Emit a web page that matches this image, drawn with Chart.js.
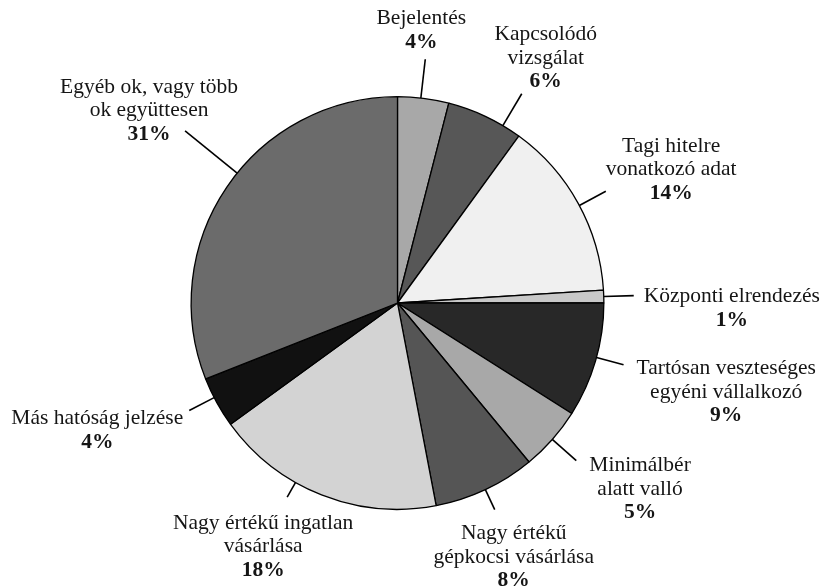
<!DOCTYPE html>
<html>
<head>
<meta charset="utf-8">
<script src="https://cdn.jsdelivr.net/npm/chart.js@4"></script>
<style>
  html, body { margin: 0; padding: 0; background: #fff; }
  canvas { display: block; }
</style>
</head>
<body>
<canvas id="c" width="822" height="586"></canvas>
<script>
// ---- data ----
const categories = [
  ['Bejelentés'],
  ['Kapcsolódó', 'vizsgálat'],
  ['Tagi hitelre', 'vonatkozó adat'],
  ['Központi elrendezés'],
  ['Tartósan veszteséges', 'egyéni vállalkozó'],
  ['Minimálbér', 'alatt valló'],
  ['Nagy értékű', 'gépkocsi vásárlása'],
  ['Nagy értékű ingatlan', 'vásárlása'],
  ['Más hatóság jelzése'],
  ['Egyéb ok, vagy több', 'ok együttesen']
];
const shares = [4, 6, 14, 1, 9, 5, 8, 18, 4, 31];

// ---- styles ----
const sliceColors = ['#a8a8a8', '#575757', '#f0f0f0', '#c8c8c8', '#282828',
                     '#a8a8a8', '#555555', '#d3d3d3', '#111111', '#6b6b6b'];
// leader/label layout: angle nudge (deg), leader length, horizontal anchor, dx, reference line, dy
const labelLayout = [
  { nudge: -0.7, len: 39, hx: 'center', dx: -4,  ref: 'last',  dy: -17 },
  { nudge: 5.5,  len: 37, hx: 'center', dx: 24,  ref: 'last',  dy: -12 },
  { nudge: 0.6,  len: 30, hx: 'left',   dx: 0,   ref: 'last',  dy: 2 },
  { nudge: 0,    len: 30, hx: 'left',   dx: 10,  ref: 'first', dy: 1 },
  { nudge: -0.9, len: 28, hx: 'left',   dx: 13,  ref: 'first', dy: 4 },
  { nudge: 0,    len: 32, hx: 'left',   dx: 13,  ref: 'first', dy: 5 },
  { nudge: 0,    len: 22, hx: 'center', dx: 19,  ref: 'first', dy: 24 },
  { nudge: 8,    len: 17, hx: 'center', dx: -24, ref: 'first', dy: 26 },
  { nudge: 1.5,  len: 28, hx: 'right',  dx: -6,  ref: 'first', dy: 8 },
  { nudge: 4.8,  len: 67, hx: 'center', dx: -36, ref: 'last',  dy: 3 }
];
const FONT_FAMILY = '"Liberation Serif", "Times New Roman", serif';
const FONT_SIZE = 21.5;
const LINE_H = 23.5;

const labelPlugin = {
  id: 'leaderLabels',
  afterDatasetsDraw(chart) {
    const ctx = chart.ctx;
    const meta = chart.getDatasetMeta(0);
    const data = chart.data.datasets[0].data;
    const total = data.reduce((a, b) => a + b, 0);
    ctx.save();
    meta.data.forEach((arc, i) => {
      const lay = labelLayout[i];
      const p = arc.getProps(['x', 'y', 'startAngle', 'endAngle', 'outerRadius'], true);
      const a = (p.startAngle + p.endAngle) / 2 + lay.nudge * Math.PI / 180;
      const r0 = p.outerRadius;
      const r1 = r0 + lay.len;
      const x0 = p.x + r0 * Math.cos(a), y0 = p.y + r0 * Math.sin(a);
      const x1 = p.x + r1 * Math.cos(a), y1 = p.y + r1 * Math.sin(a);
      ctx.beginPath();
      ctx.moveTo(x0, y0);
      ctx.lineTo(x1, y1);
      ctx.strokeStyle = '#000';
      ctx.lineWidth = 1.6;
      ctx.stroke();

      const lines = categories[i].map(t => ({ text: t, bold: false }));
      lines.push({ text: Math.round(data[i] / total * 100) + '%', bold: true });
      let maxW = 0;
      lines.forEach(l => {
        ctx.font = (l.bold ? 'bold ' : '') + FONT_SIZE + 'px ' + FONT_FAMILY;
        l.w = ctx.measureText(l.text).width;
        maxW = Math.max(maxW, l.w);
      });
      let cx;
      if (lay.hx === 'left') cx = x1 + lay.dx + maxW / 2;
      else if (lay.hx === 'right') cx = x1 + lay.dx - maxW / 2;
      else cx = x1 + lay.dx;
      let firstY;
      if (lay.ref === 'first') firstY = y1 + lay.dy;
      else firstY = y1 + lay.dy - (lines.length - 1) * LINE_H;
      ctx.fillStyle = '#151515';
      ctx.textAlign = 'center';
      ctx.textBaseline = 'middle';
      lines.forEach((l, k) => {
        ctx.font = (l.bold ? 'bold ' : '') + FONT_SIZE + 'px ' + FONT_FAMILY;
        ctx.fillText(l.text, cx, firstY + k * LINE_H);
      });
    });
    ctx.restore();
  }
};

new Chart(document.getElementById('c'), {
  type: 'pie',
  data: {
    labels: categories.map(c => c.join(' ')),
    datasets: [{
      data: shares,
      backgroundColor: sliceColors,
      borderColor: '#000',
      borderWidth: 1.3
    }]
  },
  options: {
    responsive: false,
    devicePixelRatio: 1,
    animation: false,
    layout: { padding: { left: 189, right: 216, top: 96, bottom: 76 } },
    plugins: {
      legend: { display: false },
      tooltip: { enabled: false }
    }
  },
  plugins: [labelPlugin]
});
</script>
</body>
</html>
